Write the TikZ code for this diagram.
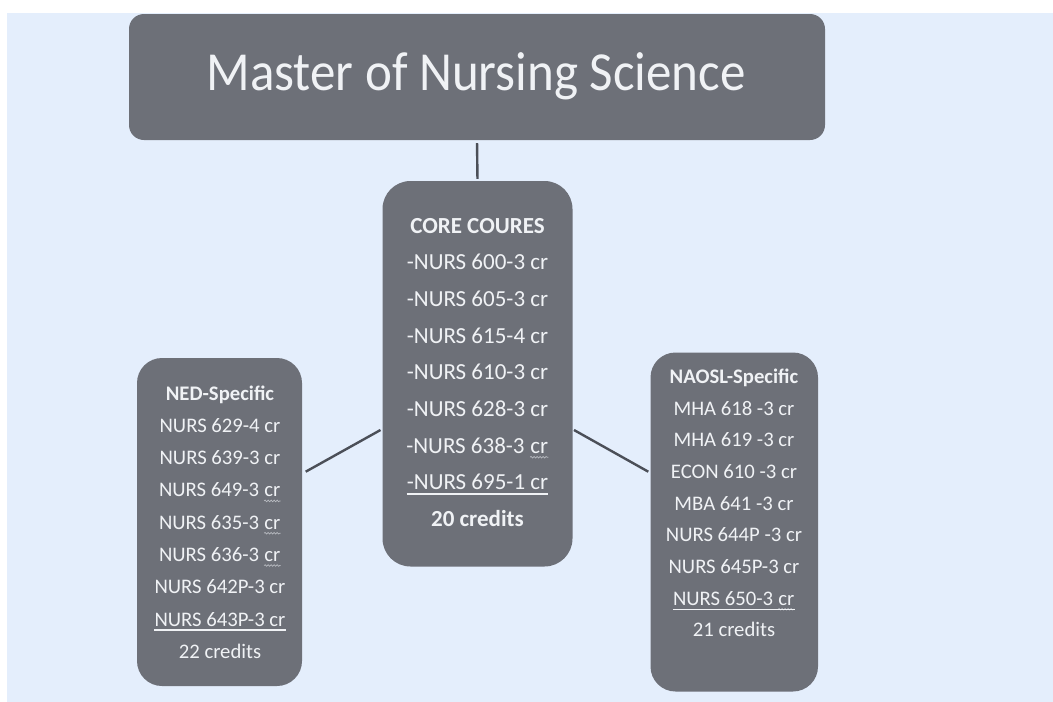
\documentclass[tikz,border=0pt]{standalone}
\usepackage{fontspec}
\setmainfont{Carlito}
\usetikzlibrary{decorations.pathmorphing}
\definecolor{bg}{HTML}{E4EEFC}
\definecolor{boxgray}{HTML}{6D7078}
\definecolor{linegray}{HTML}{4B4F58}
\definecolor{txt}{HTML}{F0F2F5}
\definecolor{wavec}{HTML}{B8BBC1}
\tikzset{
  box/.style={fill=boxgray, draw=none, inner sep=0pt},
  conn/.style={draw=linegray, line width=2.4pt},
  ctext/.style={text=txt, inner sep=0pt, anchor=base, font=\fontsize{23}{28}\selectfont},
  stext/.style={text=txt, inner sep=0pt, anchor=base, font=\fontsize{20.7}{25}\selectfont},
  uline/.style={draw=txt, line width=1.3pt},
}
\newcommand\wavyword[1]{\tikz[baseline=(w.base)]{\node[inner sep=0pt, text=txt] (w) {#1};
  \draw[wavec, line width=0.7pt, decorate, decoration={snake, amplitude=0.8pt, segment length=3pt}]
    ([yshift=-4pt]w.base west) -- ([yshift=-4pt]w.base east);}}
\begin{document}
\begin{tikzpicture}[x=1pt,y=-1pt]
\useasboundingbox (0,0) rectangle (1053,702);
\fill[white] (0,0) rectangle (1053,702);
\fill[bg] (7,13) rectangle (1053,702);

% boxes
\node[box, rounded corners=15pt, minimum width=696pt, minimum height=126pt] (top) at (477,77) {};
\node[box, rounded corners=28pt, minimum width=190pt, minimum height=385.5pt] (core) at (477.5,373.75) {};
\node[box, rounded corners=25pt, minimum width=165pt, minimum height=328pt] (ned) at (219.5,522) {};
\node[box, rounded corners=25pt, minimum width=167.5pt, minimum height=339pt] (naosl) at (734.25,522) {};

% title
\node[text=txt, inner sep=0pt, anchor=base, font=\fontsize{51}{60}\selectfont] (title) at (476,90) {\scalebox{1}[1.08]{Master of Nursing Science}};

% connectors
\draw[conn, shorten <=3pt, shorten >=2pt] (top.south) -- (core.north);
\coordinate (la) at (305.7,471.7);
\coordinate (lb) at (380.5,430);
\coordinate (ra) at (574,430);
\coordinate (rb) at (648.3,471.7);
\draw[conn] (la) -- (lb);
\draw[conn] (ra) -- (rb);

% core text
\node[ctext, font=\fontsize{23}{28}\selectfont\bfseries] (ch) at (477.5,233) {CORE COURES};
\foreach \t [count=\i from 1] in {{-NURS 600-3 cr},{-NURS 605-3 cr},{-NURS 615-4 cr},{-NURS 610-3 cr},{-NURS 628-3 cr},{-NURS 638-3 \wavyword{cr}},{-NURS 695-1 cr}}{
  \node[ctext] (c\i) at (477.5,233+36.7*\i) {\t};
}
\draw[uline] ([yshift=-4pt]c7.base west) -- ([yshift=-4pt]c7.base east);
\node[ctext, font=\fontsize{23}{28}\selectfont\bfseries] (ctot) at (477.5,526.6) {20 credits};

% NED text
\node[stext, font=\fontsize{20.7}{25}\selectfont\bfseries] (nh) at (220,400) {NED-Specific};
\foreach \t [count=\i from 1] in {{NURS 629-4 cr},{NURS 639-3 cr},{NURS 649-3 \wavyword{cr}},{NURS 635-3 \wavyword{cr}},{NURS 636-3 \wavyword{cr}},{NURS 642P-3 cr},{NURS 643P-3 cr},{22 credits}}{
  \node[stext] (n\i) at (220,400+32.3*\i) {\t};
}
\draw[uline] ([yshift=-4pt]n7.base west) -- ([yshift=-4pt]n7.base east);

% NAOSL text
\node[stext, font=\fontsize{20.7}{25}\selectfont\bfseries] (ah) at (734,383.3) {NAOSL-Specific};
\foreach \t [count=\i from 1] in {{MHA 618 -3 cr},{MHA 619 -3 cr},{ECON 610 -3 cr},{MBA 641 -3 cr},{NURS 644P -3 cr},{NURS 645P-3 cr},{NURS 650-3 \wavyword{cr}},{21 credits}}{
  \node[stext] (a\i) at (734,383.3+31.7*\i) {\t};
}
\draw[uline] ([yshift=-4pt]a7.base west) -- ([yshift=-4pt]a7.base east);
\end{tikzpicture}
\end{document}
